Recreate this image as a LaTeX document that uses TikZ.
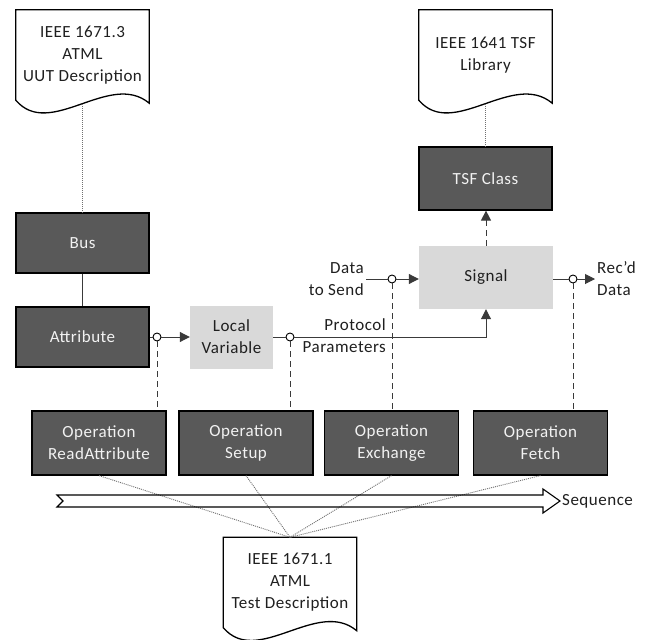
\documentclass[tikz,border=0pt]{standalone}
\usepackage{fontspec}
\setmainfont{Carlito}[LetterSpace=3]
\usetikzlibrary{arrows.meta,calc}

\definecolor{boxdark}{HTML}{595959}
\definecolor{boxlight}{HTML}{D9D9D9}
\definecolor{inktext}{HTML}{1F1F1F}
\definecolor{boxtext}{HTML}{F2F2F2}
\definecolor{linkgray}{HTML}{3A3A3A}
\definecolor{dotgray}{HTML}{707070}

% document symbol: straight top and sides, wavy bottom edge
\newcommand\docoutline[1]{%
  \draw[docline] (#1.south west)
    .. controls ($(#1.south west)+(34,40)$) and ($(#1.south west)+(94,-30)$)
    .. ($(#1.south east)+(0,3)$) -- (#1.north east) -- (#1.north west) -- cycle;
  \coordinate (#1-w) at ($(#1.south)+(0,4)$);}

\begin{document}
\begin{tikzpicture}[x=1pt,y=-1pt,
  font=\fontsize{17}{22}\selectfont,
  every node/.style={text=inktext},
  docbox/.style={minimum width=133pt, minimum height=90pt, inner sep=0pt, align=center},
  docline/.style={draw=black, line width=1.3pt},
  darkbox/.style={draw=black, line width=1.2pt, fill=boxdark, text=boxtext,
                  minimum width=133pt, minimum height=62pt, inner sep=0pt, align=center},
  lightbox/.style={fill=boxlight, draw=none, minimum height=63pt, inner sep=0pt, align=center},
  port/.style={circle, draw=black, line width=0.9pt, fill=white, minimum size=8pt, inner sep=0pt},
  lbl/.style={inner sep=2pt},
  link/.style={draw=linkgray, line width=1pt},
  arr/.style={-{Triangle[length=10pt,width=10pt]}},
  dashlink/.style={draw=linkgray, line width=1pt, dash pattern=on 6pt off 4pt},
  dotlink/.style={draw=dotgray, line width=0.9pt, dash pattern=on 1pt off 1pt},
  seqline/.style={draw=black, line width=1.1pt, line join=miter}]

\useasboundingbox (0,0) rectangle (655,639);

% standards documents
\node[docbox] (uut) at (82.5,55) {IEEE 1671.3\\ATML\\UUT Description};
\node[docbox] (tsflib) at (485.5,55) {IEEE 1641 TSF\\Library};
\node[docbox] (tdoc) at (290,582.5) {IEEE 1671.1\\ATML\\Test Description};
\docoutline{uut}
\docoutline{tsflib}
\docoutline{tdoc}

% model elements
\node[darkbox, minimum height=63pt] (tsfclass) at (485.5,178.5) {TSF Class};
\node[darkbox, minimum height=60pt] (bus) at (82.5,243) {Bus};
\node[darkbox, minimum height=60pt] (attr) at (82.5,337) {Attribute};
\node[lightbox, minimum width=83pt] (localvar) at (231.5,337) {Local\\Variable};
\node[lightbox, minimum width=134pt] (signal) at (486,277.5) {Signal};

% operations
\node[darkbox, minimum width=134pt, minimum height=64pt] (opread) at (99,443) {Operation\\ReadAttribute};
\node[darkbox, minimum width=134pt, minimum height=64pt] (opsetup) at (246,443) {Operation\\Setup};
\node[darkbox, minimum width=134pt, minimum height=64pt] (opexch) at (391.5,443) {Operation\\Exchange};
\node[darkbox, minimum width=134pt, minimum height=64pt] (opfetch) at (540.5,443) {Operation\\Fetch};

% data labels
\node[lbl, anchor=east, align=right] (dts) at (366,279) {Data\\to Send};
\node[lbl, anchor=west, align=left] (rec) at (595,279) {Rec’d\\Data};
\node[lbl, anchor=east, align=right] (proto) at (388,336) {Protocol\\Parameters};

% taps on the data paths
\node[port] (c1) at (157,337) {};
\node[port] (c2) at (290,337) {};
\node[port] (c3) at (392,279) {};
\node[port] (c4) at (573,279) {};

% data flow
\draw[link] (attr.east) -- (c1);
\draw[link,arr] (c1) -- (localvar.west);
\draw[link] (localvar.east) -- (c2);
\draw[link,arr] (c2) -- (c2 -| signal.south) -- (signal.south);
\draw[link] (dts.east) -- (c3);
\draw[link,arr] (c3) -- (c3 -| signal.west);
\draw[link] (c4 -| signal.east) -- (c4);
\draw[link,arr] (c4) -- (rec.west);
\draw[link] (bus.south) -- (attr.north);

% operations acting on the taps
\draw[dashlink] (c1) -- (c1 |- opread.north);
\draw[dashlink] (c2) -- (c2 |- opsetup.north);
\draw[dashlink] (c3) -- (c3 |- opexch.north);
\draw[dashlink] (c4) -- (c4 |- opfetch.north);
\draw[dashlink,arr] (signal.north) -- (signal.north |- tsfclass.south);

% references to the standards
\draw[dotlink] (uut-w) -- (bus.north);
\draw[dotlink] (tsflib-w) -- (tsfclass.north);
\draw[dotlink] (opread.south) -- (tdoc.north);
\draw[dotlink] (opsetup.south) -- (tdoc.north);
\draw[dotlink] (opexch.south) -- (tdoc.north);
\draw[dotlink] (opfetch.south) -- (tdoc.north);

% sequence arrow
\coordinate (seqtip) at (560,501);
\draw[seqline] (57,495) -- (543,495) -- (543,489) -- (seqtip) -- (543,513)
  -- (543,507) -- (57,507) -- (63,501) -- cycle;
\node[lbl, anchor=west] (seqlbl) at (seqtip) {Sequence};

\end{tikzpicture}
\end{document}
